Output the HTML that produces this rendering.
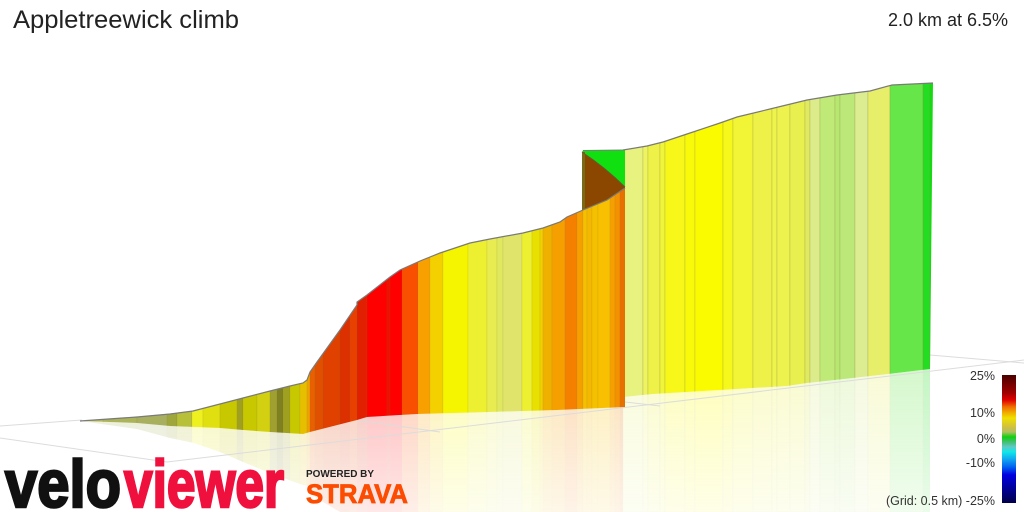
<!DOCTYPE html>
<html><head><meta charset="utf-8"><style>
html,body{margin:0;padding:0;background:#fff;width:1024px;height:512px;overflow:hidden}
svg{display:block}
text{font-family:"Liberation Sans",sans-serif}
</style></head><body>
<svg width="1024" height="512" viewBox="0 0 1024 512" xmlns="http://www.w3.org/2000/svg" style="overflow:hidden">
<defs>
<clipPath id="wallMain"><path d="M80,421 L137,417 L170,414 L193,411 L220,404 L243,398 L270,391 L290,386 L303,383 L307,380 L310,372 L317,362 L340,330 L357,305 L357,302 L367,295 L390,277 L400,270 L420,261 L440,253 L470,243 L490,239 L523,233 L543,228 L560,222 L567,217 L583,210 L607,200 L625,188 L625,407 L557,410 L490,412 L417,414 L367,417 L357,420 L310,432 L303,434 L270,432 L243,430 L220,428 L170,426 L137,423 Z"/></clipPath>
<clipPath id="wallRight"><path d="M623,150 L647,146 L663,142 L687,134 L720,123 L737,117 L770,109 L807,100 L837,95 L870,91 L892,85 L933,83 L930,369 L888,374 L853,378 L807,383 L787,386 L720,390 L653,394 L623,397 Z"/></clipPath>
<clipPath id="reflMain"><path d="M80,421 L137,423 L170,426 L220,428 L243,430 L270,432 L303,434 L310,432 L357,420 L367,417 L417,414 L490,412 L557,410 L625,407 L625,512 L340,512 L317,498.4 L310,492 L307,485.8 L303,485 L290,480.4 L270,473 L243,462 L220,452 L193,442.8 L170,438 L137,429 Z"/></clipPath>
<clipPath id="reflRight"><path d="M623,397 L653,394 L720,390 L787,386 L807,383 L853,378 L888,374 L930,369 L930,512 L623,512 Z"/></clipPath>
<linearGradient id="fadeGrad" gradientUnits="userSpaceOnUse" x1="0" y1="370" x2="0" y2="512">
<stop offset="0" stop-color="#fff"/><stop offset="1" stop-color="#555"/>
</linearGradient>
<mask id="fade" maskUnits="userSpaceOnUse" x="0" y="0" width="1024" height="512"><rect x="0" y="0" width="1024" height="512" fill="url(#fadeGrad)"/></mask>
<linearGradient id="cbar" x1="0" y1="0" x2="0" y2="1">
<stop offset="0" stop-color="#4a0000"/><stop offset="0.14" stop-color="#a00000"/><stop offset="0.195" stop-color="#e00000"/><stop offset="0.25" stop-color="#f07000"/><stop offset="0.297" stop-color="#f0b000"/><stop offset="0.336" stop-color="#f0e000"/><stop offset="0.406" stop-color="#d0c040"/><stop offset="0.445" stop-color="#b0c060"/><stop offset="0.484" stop-color="#10d010"/><stop offset="0.523" stop-color="#40c070"/><stop offset="0.5625" stop-color="#60c8c8"/><stop offset="0.60" stop-color="#10e8e8"/><stop offset="0.664" stop-color="#10a0f0"/><stop offset="0.72" stop-color="#0060f0"/><stop offset="0.78" stop-color="#0000e0"/><stop offset="0.875" stop-color="#0000a0"/><stop offset="1" stop-color="#000048"/>
</linearGradient>
<g id="stripesMain" stroke="rgba(120,110,40,0.18)" stroke-width="0.6">
<rect x="80" y="150" width="23" height="362" fill="#b8bd60"/>
<rect x="103" y="150" width="34" height="362" fill="#abb45a"/>
<rect x="137" y="150" width="30" height="362" fill="#a8b060"/>
<rect x="167" y="150" width="10" height="362" fill="#9ea63c"/>
<rect x="177" y="150" width="15" height="362" fill="#b8bf38"/>
<rect x="192" y="150" width="11" height="362" fill="#eef020"/>
<rect x="203" y="150" width="17" height="362" fill="#e0e010"/>
<rect x="220" y="150" width="17" height="362" fill="#c8c800"/>
<rect x="237" y="150" width="6" height="362" fill="#a0a020"/>
<rect x="243" y="150" width="14" height="362" fill="#c8c800"/>
<rect x="257" y="150" width="13" height="362" fill="#d2d010"/>
<rect x="270" y="150" width="7" height="362" fill="#a0a030"/>
<rect x="277" y="150" width="6" height="362" fill="#7f8020"/>
<rect x="283" y="150" width="7" height="362" fill="#a0a020"/>
<rect x="290" y="150" width="10" height="362" fill="#c8c800"/>
<rect x="300" y="150" width="7" height="362" fill="#e6c000"/>
<rect x="307" y="150" width="3" height="362" fill="#f0a000"/>
<rect x="310" y="150" width="5" height="362" fill="#e86000"/>
<rect x="315" y="150" width="8" height="362" fill="#e05000"/>
<rect x="323" y="150" width="17" height="362" fill="#e04000"/>
<rect x="340" y="150" width="10" height="362" fill="#dc3000"/>
<rect x="350" y="150" width="7" height="362" fill="#e84000"/>
<rect x="357" y="150" width="10" height="362" fill="#e02000"/>
<rect x="367" y="150" width="20" height="362" fill="#ff0000"/>
<rect x="387" y="150" width="3" height="362" fill="#ee1000"/>
<rect x="390" y="150" width="12" height="362" fill="#ff0000"/>
<rect x="402" y="150" width="16" height="362" fill="#f85000"/>
<rect x="418" y="150" width="12" height="362" fill="#f8a000"/>
<rect x="430" y="150" width="13" height="362" fill="#f5d000"/>
<rect x="443" y="150" width="25" height="362" fill="#f5f500"/>
<rect x="468" y="150" width="19" height="362" fill="#ecf030"/>
<rect x="487" y="150" width="10" height="362" fill="#e8ec50"/>
<rect x="497" y="150" width="6" height="362" fill="#e0e860"/>
<rect x="503" y="150" width="19" height="362" fill="#e0e46a"/>
<rect x="522" y="150" width="10" height="362" fill="#ecf030"/>
<rect x="532" y="150" width="8" height="362" fill="#e8e000"/>
<rect x="540" y="150" width="3" height="362" fill="#f0d000"/>
<rect x="543" y="150" width="9" height="362" fill="#f0b000"/>
<rect x="552" y="150" width="13" height="362" fill="#f5a000"/>
<rect x="565" y="150" width="12" height="362" fill="#f58000"/>
<rect x="577" y="150" width="6" height="362" fill="#f5a000"/>
<rect x="583" y="150" width="4" height="362" fill="#f5c000"/>
<rect x="587" y="150" width="5" height="362" fill="#f5b800"/>
<rect x="592" y="150" width="6" height="362" fill="#f5c000"/>
<rect x="598" y="150" width="12" height="362" fill="#f8c000"/>
<rect x="610" y="150" width="5" height="362" fill="#f5a000"/>
<rect x="615" y="150" width="5" height="362" fill="#f59000"/>
<rect x="620" y="150" width="5" height="362" fill="#e87000"/>
</g>
<g id="stripesRight" stroke="rgba(140,140,70,0.35)" stroke-width="0.7">
<rect x="623" y="60" width="20" height="452" fill="#e8f27e"/>
<rect x="643" y="60" width="5" height="452" fill="#eef460"/>
<rect x="648" y="60" width="12" height="452" fill="#eef248"/>
<rect x="660" y="60" width="5" height="452" fill="#f1f53a"/>
<rect x="665" y="60" width="20" height="452" fill="#f7f71a"/>
<rect x="685" y="60" width="10" height="452" fill="#f9f90a"/>
<rect x="695" y="60" width="28" height="452" fill="#fbfb00"/>
<rect x="723" y="60" width="10" height="452" fill="#f6f71a"/>
<rect x="733" y="60" width="20" height="452" fill="#f2f535"/>
<rect x="753" y="60" width="19" height="452" fill="#eef148"/>
<rect x="772" y="60" width="5" height="452" fill="#eef44a"/>
<rect x="777" y="60" width="13" height="452" fill="#edf24e"/>
<rect x="790" y="60" width="15" height="452" fill="#e8f050"/>
<rect x="805" y="60" width="5" height="452" fill="#e0ea60"/>
<rect x="810" y="60" width="10" height="452" fill="#dcec8a"/>
<rect x="820" y="60" width="15" height="452" fill="#c0ea78"/>
<rect x="835" y="60" width="5" height="452" fill="#b6e870"/>
<rect x="840" y="60" width="15" height="452" fill="#bce87a"/>
<rect x="855" y="60" width="13" height="452" fill="#dcec90"/>
<rect x="868" y="60" width="22" height="452" fill="#e6ee6a"/>
<rect x="890" y="60" width="33" height="452" fill="#66e648"/>
<rect x="923" y="60" width="7" height="452" fill="#22dd22"/>
<rect x="930" y="60" width="4" height="452" fill="#10dd10"/>
</g>
</defs>

<!-- reflections -->
<g mask="url(#fade)" opacity="0.27">
<g clip-path="url(#reflMain)"><use href="#stripesMain"/></g>
<g clip-path="url(#reflRight)"><use href="#stripesRight"/></g>
</g>

<!-- floor grid -->
<g stroke="#dcdcdc" stroke-width="1" fill="none">
<line x1="0" y1="426" x2="82" y2="420"/>
<line x1="0" y1="438" x2="167" y2="462"/>
<line x1="167" y1="462" x2="1024" y2="360"/>
<line x1="300" y1="412" x2="440" y2="432"/>
<line x1="625" y1="402" x2="660" y2="406"/>
<line x1="930" y1="355" x2="1024" y2="363"/>
</g>

<!-- right wall -->
<g clip-path="url(#wallRight)"><use href="#stripesRight"/></g>
<path d="M623,150 L647,146 L663,142 L687,134 L720,123 L737,117 L770,109 L807,100 L837,95 L870,91 L892,85 L933,83" fill="none" stroke="#7a7a7a" stroke-width="1.2"/>

<!-- green top face and brown back face -->
<path d="M582,152 L583,150.5 L625,150 L625,187 Q606,168 582,152 Z" fill="#10e010"/>
<path d="M582,152 Q606,168 625,187 L625,215 L582,215 Z" fill="#8b4700"/>
<rect x="582" y="152" width="3" height="60" fill="#7a6a18"/>
<path d="M583,150.5 L625,150" fill="none" stroke="#7a7a7a" stroke-width="1"/>
<path d="M582,152 Q606,168 625,187" fill="none" stroke="#6a5a30" stroke-width="1"/>

<!-- main wall -->
<g clip-path="url(#wallMain)"><use href="#stripesMain"/></g>
<path d="M80,421 L137,417 L170,414 L193,411 L220,404 L243,398 L270,391 L290,386 L303,383 L307,380 L310,372 L317,362 L340,330 L357,305 L357,302 L367,295 L390,277 L400,270 L420,261 L440,253 L470,243 L490,239 L523,233 L543,228 L560,222 L567,217 L583,210 L607,200 L625,188" fill="none" stroke="#7a7a7a" stroke-width="1.2"/>

<!-- titles -->
<text x="13" y="28" font-size="25" fill="#222" textLength="226" lengthAdjust="spacingAndGlyphs">Appletreewick climb</text>
<text x="1008" y="26" font-size="18" fill="#222" text-anchor="end">2.0 km at 6.5%</text>

<!-- legend -->
<rect x="1002" y="375" width="14" height="128" fill="url(#cbar)"/>
<g font-size="12.5" fill="#333" text-anchor="end">
<text x="995" y="380">25%</text>
<text x="995" y="417">10%</text>
<text x="995" y="443">0%</text>
<text x="995" y="467">-10%</text>
<text x="995" y="505">(Grid: 0.5 km) -25%</text>
</g>

<!-- logos -->
<g transform="translate(5,507) scale(1,1.28)">
<text x="0" y="0" font-size="52" font-weight="bold" fill="#111" stroke="#111" stroke-width="2" textLength="116" lengthAdjust="spacingAndGlyphs">velo</text>
</g>
<g transform="translate(124,507) scale(1,1.28)">
<text x="0" y="0" font-size="52" font-weight="bold" fill="#f0103e" stroke="#f0103e" stroke-width="2" textLength="160" lengthAdjust="spacingAndGlyphs">viewer</text>
</g>
<text x="306" y="477" font-size="10" font-weight="bold" fill="#222" textLength="68" lengthAdjust="spacingAndGlyphs">POWERED BY</text>
<text x="306" y="503" font-size="27" font-weight="bold" fill="#fc4c02" stroke="#fc4c02" stroke-width="0.8" textLength="102" lengthAdjust="spacingAndGlyphs">STRAVA</text>
</svg>
</body></html>
